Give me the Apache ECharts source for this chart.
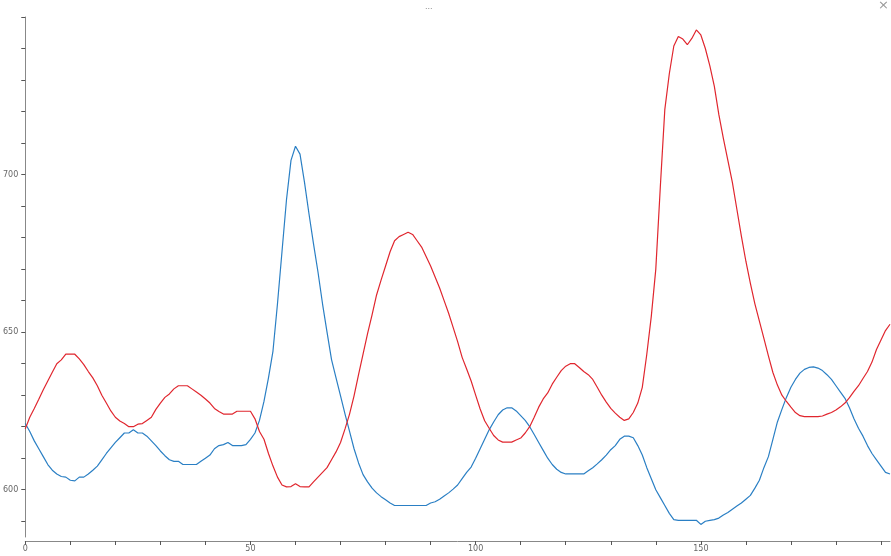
<!DOCTYPE html>
<html>
<head>
<meta charset="utf-8">
<script src="https://cdn.jsdelivr.net/npm/echarts@6/dist/echarts.min.js"></script>
<style>
html,body{margin:0;padding:0;background:#fff;}
#chart{width:891px;height:556px;}
</style>
</head>
<body>
<div id="chart"></div>
<script>
const titleText = '...';
const xTickValues = [0,10,20,30,40,50,60,70,80,90,100,110,120,130,140,150,160,170,180,190];
const xLabelValues = [0,50,100,150];
const yTickValues = [590,600,610,620,630,640,650,660,670,680,690,700,710,720,730,740,750];
const yLabelValues = [600,650,700];

const blueValues = [
621,618.5,615.5,613,610.5,608,606.2,605,604.2,604,
603,602.8,604,604,605,606.2,607.5,609.5,611.5,613.3,
615,616.5,618,618,619,618,618,617,615.5,614,
612.3,610.8,609.5,609,609,608,608,608,608,609,
610,611,613,614,614.3,615,614,614,614,614.3,
616,618,622,628,635.5,644,659,675.5,692,704.5,
709,706.5,697.5,687.5,678,669,659,650,641.3,635.5,
629.8,624,618.5,613,608.5,604.8,602.5,600.5,599,597.8,
596.8,595.8,595,595,595,595,595,595,595,595,
595.8,596.2,597,598,599,600.2,601.5,603.5,605.5,607.2,
610,613,616,619,621.5,623.8,625.3,626,626,625,
623.5,622,620,617.5,615,612.5,610,608,606.5,605.5,
605,605,605,605,605,606,607,608.2,609.5,611,
612.7,614,616,617,617,616.5,614,611,607,603.5,
600,597.5,595,592.5,590.5,590.3,590.3,590.3,590.3,590.3,
589,590,590.3,590.5,591,592,592.8,593.8,594.8,595.8,
597,598.2,600.5,603,607,610.5,616,621.5,625.5,629.3,
632.5,635,637,638.2,638.8,639,638.6,637.8,636.5,635,
633,631,629,626,622.5,619.5,617,614,611.5,609.5,
607.5,605.5,605
];

const redValues = [
619.3,623,625.8,628.7,631.7,634.5,637.3,640,641.2,643,
643,643,641.5,639.7,637.5,635.5,633,630,627.5,625,
623,621.8,621,620,620,620.8,621,622,623,625.5,
627.5,629.3,630.4,632,633,633,633,632,631,630,
628.8,627.5,625.8,624.8,624,624,624,624.9,624.9,624.9,
624.9,622.5,618.5,616,611.5,607.5,604,601.5,600.9,601,
601.9,601,600.9,600.9,602.5,604,605.5,607,609.5,612,
615,619.3,624,629.8,636.5,643,649.5,655.5,661.8,666.5,
671,675.5,679,680.3,681,681.7,681,679,677,674,
671,667.5,664,660,656,651.5,647,642,638.3,634.5,
630,625.6,621.9,619.5,617.2,615.8,615.1,615.1,615.1,615.8,
616.4,618,620,623,626.2,628.8,630.7,633.5,635.7,637.8,
639.2,640,640,638.8,637.5,636.5,635,632.5,630,627.8,
625.8,624.3,623,622,622.5,624.5,627.5,632.5,643,655,
670,696,720.6,732,740.8,743.8,743,741.2,743.2,745.9,
744.3,740,734.5,728,719,711.5,704.5,697.5,689,680.5,
672.5,665.5,659,653.5,648,642.5,637.2,633.2,630,628,
626.2,624.5,623.5,623.2,623.2,623.2,623.2,623.4,624,624.5,
625.3,626.3,627.5,629.2,631.2,633,635.3,637.5,640.5,644.5,
647.5,650.5,652.5
];

const toPairs = arr => arr.map((v, i) => [i, v]);

const chart = echarts.init(document.getElementById('chart'), null, {renderer: 'canvas'});
const axisColor = '#888';
chart.setOption({
  animation: false,
  backgroundColor: '#fff',
  title: {
    text: titleText,
    left: 420,
    top: -2,
    textStyle: {fontSize: 8, color: '#888', fontWeight: 'normal', fontFamily: 'DejaVu Sans'}
  },
  graphic: [{
    type: 'text',
    right: 2,
    top: -1,
    style: {text: '×', fontSize: 13, fill: '#999', fontFamily: 'DejaVu Sans'}
  }],
  grid: {left: 24, right: 1, top: 17, bottom: 19, containLabel: false},
  xAxis: {
    type: 'value',
    min: 0,
    max: 192,
    offset: 4,
    splitLine: {show: false},
    axisLine: {lineStyle: {color: axisColor, width: 1}},
    axisTick: {show: true, length: 4, customValues: xTickValues, lineStyle: {color: '#555'}},
    axisLabel: {customValues: xLabelValues, fontSize: 8, color: '#666', margin: 4, fontFamily: 'DejaVu Sans'}
  },
  yAxis: {
    type: 'value',
    min: 585,
    max: 750,
    offset: 2,
    splitLine: {show: false},
    axisLine: {show: true, lineStyle: {color: axisColor, width: 1}},
    axisTick: {show: true, length: 4, customValues: yTickValues, lineStyle: {color: '#555'}},
    axisLabel: {customValues: yLabelValues, fontSize: 8, color: '#666', margin: 5, fontFamily: 'DejaVu Sans'}
  },
  series: [
    {
      name: 'blue', type: 'line', data: toPairs(blueValues), showSymbol: false,
      lineStyle: {color: '#2a7fc4', width: 1.2}, itemStyle: {color: '#2a7fc4'}
    },
    {
      name: 'red', type: 'line', data: toPairs(redValues), showSymbol: false,
      lineStyle: {color: '#e0262e', width: 1.2}, itemStyle: {color: '#e0262e'}
    }
  ]
});
</script>
</body>
</html>
